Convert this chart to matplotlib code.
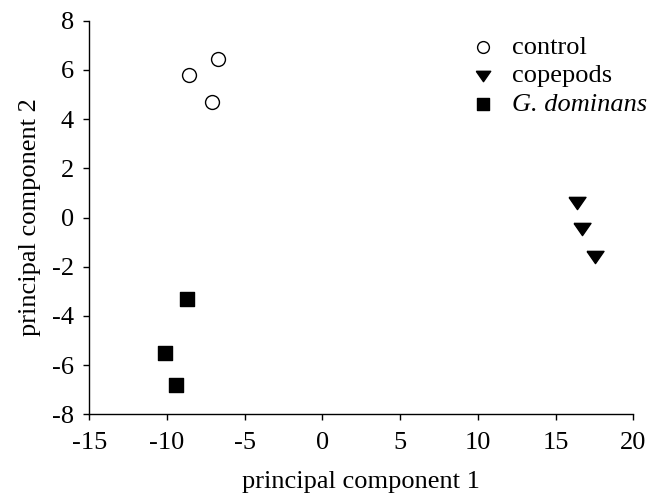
import matplotlib
matplotlib.use('Agg')
import matplotlib.pyplot as plt

plt.rcParams['font.family'] = ['Liberation Serif', 'DejaVu Serif']

# PCA scores
control_x = [-8.6, -6.7, -7.1]
control_y = [5.8, 6.45, 4.7]
copepods_x = [16.4, 16.7, 17.5]
copepods_y = [0.6, -0.45, -1.6]
gdom_x = [-8.7, -10.1, -9.4]
gdom_y = [-3.3, -5.5, -6.8]

xticks = [-15, -10, -5, 0, 5, 10, 15, 20]
yticks = [-8, -6, -4, -2, 0, 2, 4, 6, 8]

# wide, flat down-pointing triangle like the original
tri = [(-1, 0.72), (1, 0.72), (0, -0.72), (-1, 0.72)]

fs = 19

fig = plt.figure(figsize=(6.55, 4.98), dpi=100)
ax = fig.add_axes([0.1363, 0.168, 0.8307, 0.7904])

ax.scatter(control_x, control_y, s=100, marker='o', facecolors='white',
           edgecolors='black', linewidths=1.0, label='control')
ax.scatter(copepods_x, copepods_y, s=150, marker=tri, color='black',
           label='copepods')
ax.scatter(gdom_x, gdom_y, s=110, marker='s', color='black',
           label='G. dominans')

ax.set_xlim(-15, 20)
ax.set_ylim(-8, 8)
ax.set_xticks(xticks)
ax.set_yticks(yticks)
ax.set_xticklabels([str(t) for t in xticks])
ax.set_yticklabels([str(t) for t in yticks])

for s in ['top', 'right']:
    ax.spines[s].set_visible(False)
for s in ['left', 'bottom']:
    ax.spines[s].set_linewidth(1.0)

ax.tick_params(direction='out', length=4, width=1.0, labelsize=fs, pad=7)
ax.tick_params(axis='x', pad=9)

ax.set_xlabel('principal component 1', fontsize=fs, labelpad=12)
ax.set_ylabel('principal component 2', fontsize=fs, labelpad=8)

leg = ax.legend(loc='upper left', bbox_to_anchor=(0.655, 0.99), frameon=False,
                fontsize=fs, handletextpad=0.1, labelspacing=0.2,
                borderaxespad=0, scatterpoints=1, markerscale=0.85)
leg.get_texts()[2].set_fontstyle('italic')

fig.savefig('out.png', dpi=100)
